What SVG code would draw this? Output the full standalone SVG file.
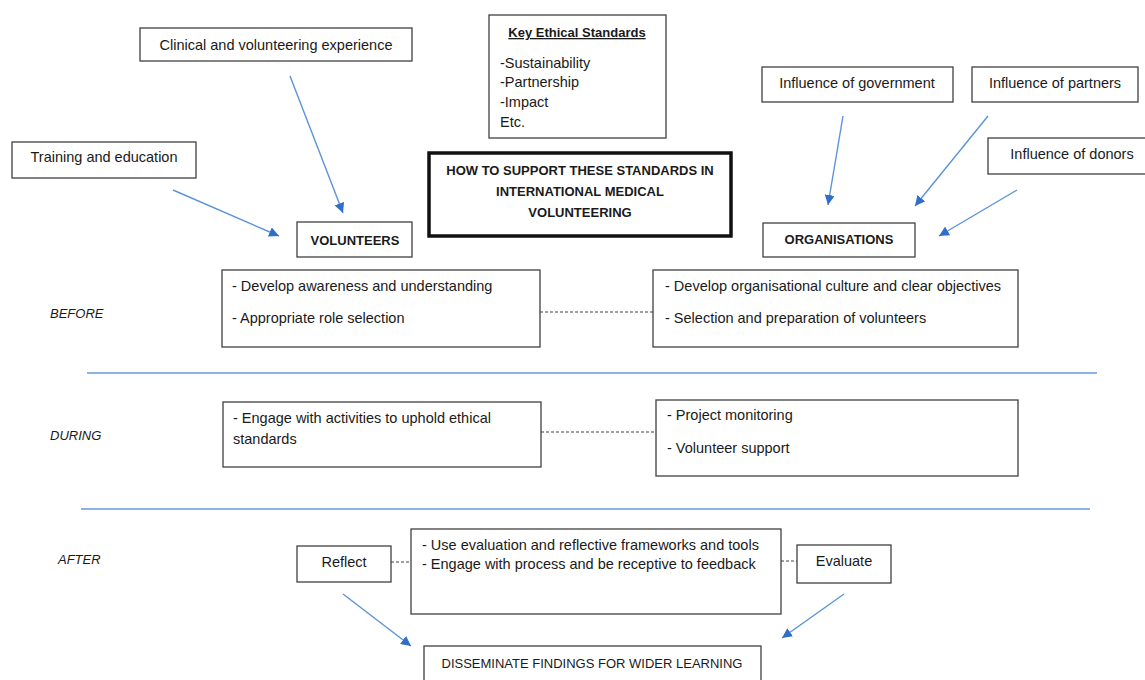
<svg xmlns="http://www.w3.org/2000/svg" width="1145" height="680" viewBox="0 0 1145 680">
<style>
.box{fill:#fff;stroke:#404040;stroke-width:1.3}
.t{font-family:"Liberation Sans",Arial,sans-serif;font-size:14.5px;fill:#1a1a1a}
.c{text-anchor:middle}
.b{font-weight:bold;font-size:13px}
.lab{font-family:"Liberation Sans",Arial,sans-serif;font-size:13px;font-style:italic;fill:#1a1a1a}
.arr{stroke:#5b93d9;stroke-width:1.4;fill:none;marker-end:url(#ah)}
.dash{stroke:#444;stroke-width:1.2;stroke-dasharray:3,2;fill:none}
.sep{stroke:#8db3e2;stroke-width:2;fill:none}
</style>
<defs>
<marker id="ah" markerUnits="userSpaceOnUse" markerWidth="12" markerHeight="10" refX="10" refY="5" orient="auto">
<path d="M0,0 L10,5 L0,10 z" fill="#2f6fc8"/>
</marker>
</defs>
<rect width="1145" height="680" fill="#fff"/>

<g id="connectors">
<line class="arr" x1="173" y1="190" x2="279" y2="236"/>
<line class="arr" x1="290" y1="76" x2="343" y2="213"/>
<line class="arr" x1="843" y1="116" x2="828" y2="205"/>
<line class="arr" x1="988" y1="116" x2="915" y2="206"/>
<line class="arr" x1="1017" y1="190" x2="939" y2="236"/>
<line class="dash" x1="540" y1="312" x2="653" y2="312"/>
<line class="dash" x1="541" y1="432" x2="656" y2="432"/>
<line class="dash" x1="391" y1="562" x2="411" y2="562"/>
<line class="dash" x1="781" y1="561" x2="797" y2="561"/>
<line class="arr" x1="343" y1="594" x2="411" y2="646"/>
<line class="arr" x1="844" y1="594" x2="782" y2="638"/>
</g>

<g id="separators">
<line class="sep" x1="87" y1="373" x2="1097" y2="373"/>
<line class="sep" x1="81" y1="509" x2="1090" y2="509"/>
</g>

<g id="phase-labels">
<text class="lab" x="50" y="318">BEFORE</text>
<text class="lab" x="50" y="440">DURING</text>
<text class="lab" x="58" y="564">AFTER</text>
</g>

<g id="clinical">
<rect class="box" x="140" y="28" width="272" height="33"/>
<text class="t c" x="276" y="50">Clinical and volunteering experience</text>
</g>
<g id="training">
<rect class="box" x="12" y="142" width="184" height="36"/>
<text class="t c" x="104" y="162">Training and education</text>
</g>
<g id="volunteers">
<rect class="box" x="297" y="222" width="115" height="35"/>
<text class="t c b" x="355" y="245">VOLUNTEERS</text>
</g>
<g id="key-standards">
<rect class="box" x="489" y="15" width="177" height="123"/>
<text class="t c b" x="577" y="37" text-decoration="underline">Key Ethical Standards</text>
<text class="t" x="500" y="68">-Sustainability</text>
<text class="t" x="500" y="87">-Partnership</text>
<text class="t" x="500" y="107">-Impact</text>
<text class="t" x="500" y="127">Etc.</text>
</g>
<g id="title">
<rect x="429" y="153" width="302" height="83" fill="#fff" stroke="#111" stroke-width="3.5"/>
<text class="t c b" x="580" y="175">HOW TO SUPPORT THESE STANDARDS IN</text>
<text class="t c b" x="580" y="196">INTERNATIONAL MEDICAL</text>
<text class="t c b" x="580" y="217">VOLUNTEERING</text>
</g>
<g id="gov">
<rect class="box" x="762" y="67" width="191" height="35"/>
<text class="t c" x="857" y="88">Influence of government</text>
</g>
<g id="partners">
<rect class="box" x="972" y="67" width="166" height="35"/>
<text class="t c" x="1055" y="88">Influence of partners</text>
</g>
<g id="donors">
<rect class="box" x="988" y="138" width="162" height="36"/>
<text class="t c" x="1072" y="159">Influence of donors</text>
</g>
<g id="organisations">
<rect class="box" x="763" y="223" width="152" height="34"/>
<text class="t c b" x="839" y="244">ORGANISATIONS</text>
</g>

<g id="before-vol">
<rect class="box" x="222" y="270" width="318" height="77"/>
<text class="t" x="232" y="291">- Develop awareness and understanding</text>
<text class="t" x="232" y="323">- Appropriate role selection</text>
</g>
<g id="before-org">
<rect class="box" x="653" y="270" width="365" height="77"/>
<text class="t" x="665" y="291">- Develop organisational culture and clear objectives</text>
<text class="t" x="665" y="323">- Selection and preparation of volunteers</text>
</g>
<g id="during-vol">
<rect class="box" x="223" y="402" width="318" height="65"/>
<text class="t" x="233" y="423">- Engage with activities to uphold ethical</text>
<text class="t" x="233" y="444">standards</text>
</g>
<g id="during-org">
<rect class="box" x="656" y="400" width="362" height="76"/>
<text class="t" x="667" y="420">- Project monitoring</text>
<text class="t" x="667" y="453">- Volunteer support</text>
</g>

<g id="reflect">
<rect class="box" x="297" y="546" width="94" height="36"/>
<text class="t c" x="344" y="567">Reflect</text>
</g>
<g id="after-mid">
<rect class="box" x="411" y="529" width="370" height="85"/>
<text class="t" x="422" y="550">- Use evaluation and reflective frameworks and tools</text>
<text class="t" x="422" y="569">- Engage with process and be receptive to feedback</text>
</g>
<g id="evaluate">
<rect class="box" x="797" y="545" width="94" height="38"/>
<text class="t c" x="844" y="566">Evaluate</text>
</g>
<g id="disseminate">
<rect class="box" x="424" y="646" width="337" height="50"/>
<text class="t c" x="592" y="668" style="font-size:13px">DISSEMINATE FINDINGS FOR WIDER LEARNING</text>
</g>
</svg>
